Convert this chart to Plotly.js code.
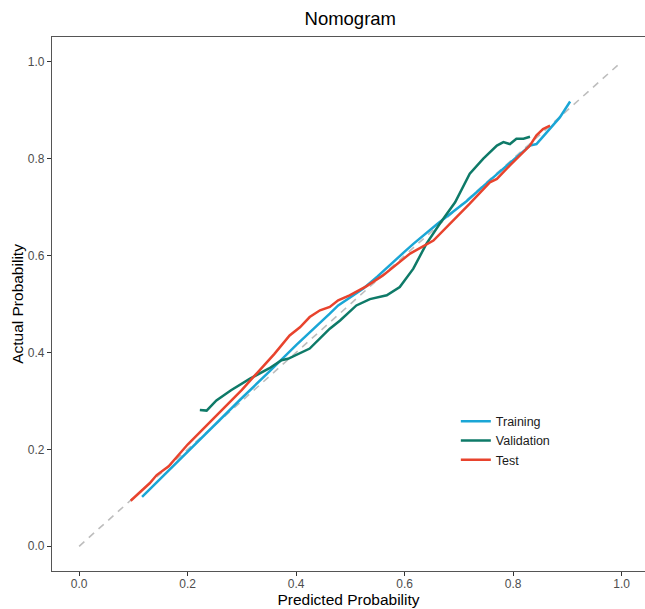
<!DOCTYPE html>
<html>
<head>
<meta charset="utf-8">
<script src="https://cdn.plot.ly/plotly-3.0.1.min.js"></script>
<style>html,body{margin:0;padding:0;background:#fff;}#chart{width:645px;height:609px;}</style>
</head>
<body>
<div id="chart"></div>
<script>
// Reference (ideal) line
const refX = [0, 1];
const refY = [0, 1];

// Training
const trainX = [0.116, 0.15, 0.2, 0.259, 0.3, 0.35, 0.4, 0.462, 0.4775, 0.524, 0.55, 0.6, 0.616, 0.66, 0.714, 0.757, 0.794, 0.831, 0.843, 0.868, 0.886, 0.905];
const trainY = [0.102, 0.140, 0.196, 0.262, 0.306, 0.360, 0.415, 0.480, 0.497, 0.532, 0.557, 0.608, 0.624, 0.665, 0.712, 0.755, 0.792, 0.827, 0.830, 0.861, 0.885, 0.918];

// Validation
const valX = [0.2225, 0.235, 0.253, 0.28, 0.315, 0.35, 0.373, 0.385, 0.425, 0.462, 0.481, 0.511, 0.536, 0.567, 0.591, 0.616, 0.640, 0.665, 0.693, 0.720, 0.745, 0.770, 0.782, 0.794, 0.806, 0.819, 0.831];
const valY = [0.281, 0.280, 0.301, 0.322, 0.346, 0.367, 0.384, 0.387, 0.408, 0.449, 0.466, 0.497, 0.510, 0.518, 0.535, 0.573, 0.624, 0.666, 0.710, 0.769, 0.800, 0.827, 0.834, 0.830, 0.841, 0.841, 0.845];

// Test
const testX = [0.095, 0.11, 0.13, 0.143, 0.152, 0.165, 0.2, 0.247, 0.259, 0.30, 0.330, 0.36, 0.388, 0.407, 0.425, 0.444, 0.462, 0.4775, 0.4985, 0.53, 0.560, 0.610, 0.653, 0.690, 0.720, 0.757, 0.770, 0.794, 0.831, 0.843, 0.855, 0.868];
const testY = [0.094, 0.11, 0.13, 0.147, 0.154, 0.165, 0.21, 0.264, 0.277, 0.323, 0.360, 0.397, 0.435, 0.452, 0.473, 0.487, 0.494, 0.5075, 0.518, 0.537, 0.559, 0.604, 0.631, 0.672, 0.707, 0.751, 0.758, 0.786, 0.827, 0.848, 0.861, 0.868];

const tickVals = [0, 0.2, 0.4, 0.6, 0.8, 1.0];
const tickText = ['0.0', '0.2', '0.4', '0.6', '0.8', '1.0'];

const FONT = 'Liberation Sans, Arial, sans-serif';

const traces = [
  {x: refX, y: refY, mode: 'lines', showlegend: false, hoverinfo: 'skip',
   line: {color: '#BDBDBD', width: 1.6, dash: '7px,6px'}},
  {x: trainX, y: trainY, mode: 'lines', name: 'Training',
   line: {color: '#1AA6D6', width: 2.5}},
  {x: valX, y: valY, mode: 'lines', name: 'Validation',
   line: {color: '#0E7A68', width: 2.5}},
  {x: testX, y: testY, mode: 'lines', name: 'Test',
   line: {color: '#E8432D', width: 2.5}}
];

const layout = {
  width: 645, height: 609,
  margin: {l: 52, r: 0, t: 37, b: 38},
  paper_bgcolor: '#fff', plot_bgcolor: '#fff',
  font: {family: FONT, color: '#000'},
  title: {text: 'Nomogram', font: {size: 18.5, color: '#000', family: FONT},
          x: 0.503, xref: 'paper', xanchor: 'center', y: 0.970, yref: 'container', yanchor: 'middle'},
  xaxis: {
    range: [-0.05, 1.043], tickvals: tickVals, ticktext: tickText,
    showgrid: false, zeroline: false, showline: true, mirror: true,
    linecolor: '#555', linewidth: 1.2,
    ticks: 'outside', ticklen: 4, tickcolor: '#333', tickwidth: 1,
    ticklabelstandoff: -3,
    tickfont: {size: 12, color: '#4D4D4D', family: FONT},
    title: {text: 'Predicted Probability', font: {size: 15.5, color: '#000', family: FONT}, standoff: 2},
    automargin: false
  },
  yaxis: {
    range: [-0.051, 1.051], tickvals: tickVals, ticktext: tickText,
    showgrid: false, zeroline: false, showline: true, mirror: false,
    linecolor: '#555', linewidth: 1.2,
    ticks: 'outside', ticklen: 4, tickcolor: '#333', tickwidth: 1,
    tickfont: {size: 12, color: '#4D4D4D', family: FONT},
    title: {text: 'Actual Probability', font: {size: 15.5, color: '#000', family: FONT}, standoff: 0},
    automargin: false
  },
  legend: {
    x: 0.681, y: 0.3077, xanchor: 'left', yanchor: 'top',
    bgcolor: 'rgba(0,0,0,0)', font: {size: 12.5, color: '#1a1a1a', family: FONT},
    tracegroupgap: 0
  },
  showlegend: true
};

Plotly.newPlot('chart', traces, layout, {displayModeBar: false, staticPlot: true});
</script>
</body>
</html>
